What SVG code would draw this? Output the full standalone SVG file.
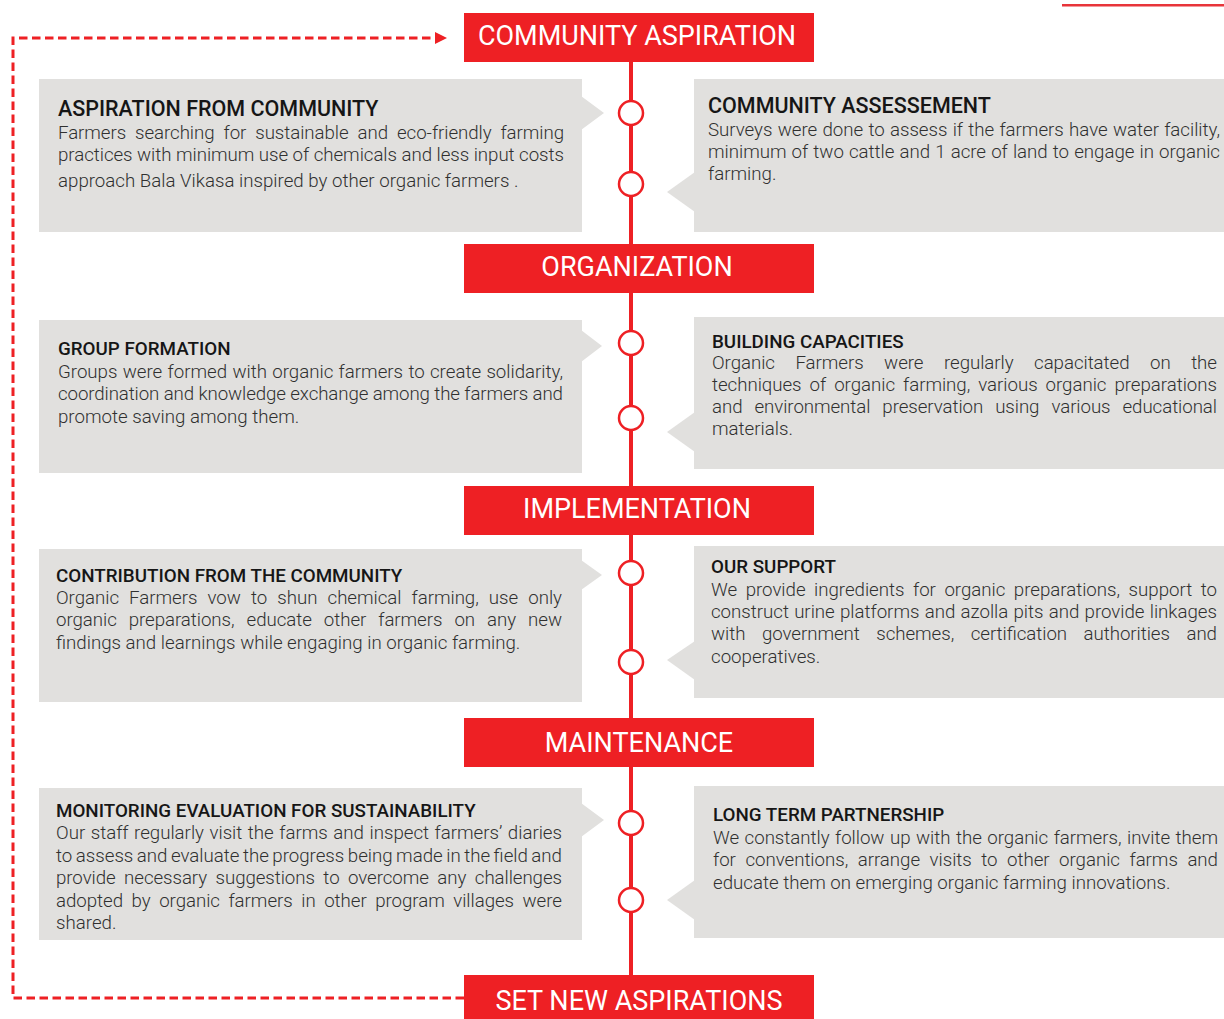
<svg xmlns="http://www.w3.org/2000/svg" width="1224" height="1019" viewBox="0 0 1224 1019">
<style>
.box{fill:#e1e0de}
.ttl{fill:#ee2024}
.tt{font-family:Roboto,"Liberation Sans",sans-serif;font-size:27px;fill:#fff;text-anchor:middle}
.hd{font-family:Roboto,"Liberation Sans",sans-serif;font-weight:500;font-size:18.8px;fill:#161616}
.hd1{font-size:21.5px}
.bd{font-family:Roboto,"Liberation Sans",sans-serif;font-weight:300;font-size:18.7px;fill:#303030}
.dot{fill:#fff;stroke:#ee2024;stroke-width:2.5}
</style>
<rect x="1062" y="4" width="162" height="2.5" fill="#e8343a"/>
<g id="connectors">
<line x1="631" y1="60" x2="631" y2="977" stroke="#ee2024" stroke-width="4"/>
<path d="M464,998 H13 V38 H437" fill="none" stroke="#ee2024" stroke-width="3" stroke-dasharray="8.5 4.5"/>
<polygon points="435,32 447,38 435,44" fill="#ee2024"/>
</g>
<g id="dots">
<circle class="dot" cx="631" cy="113" r="12"/>
<circle class="dot" cx="631" cy="184" r="12"/>
<circle class="dot" cx="631" cy="343" r="12"/>
<circle class="dot" cx="631" cy="418" r="12"/>
<circle class="dot" cx="631" cy="573" r="12"/>
<circle class="dot" cx="631" cy="662" r="12"/>
<circle class="dot" cx="631" cy="823" r="12"/>
<circle class="dot" cx="631" cy="900" r="12"/>
</g>
<g id="title-community-aspiration"><rect class="ttl" x="464" y="13" width="350" height="49"/><text class="tt" x="637" y="44.5">COMMUNITY ASPIRATION</text></g>
<g id="title-organization"><rect class="ttl" x="464" y="244" width="350" height="49"/><text class="tt" x="637" y="275.5">ORGANIZATION</text></g>
<g id="title-implementation"><rect class="ttl" x="464" y="486" width="350" height="49"/><text class="tt" x="637" y="517.5">IMPLEMENTATION</text></g>
<g id="title-maintenance"><rect class="ttl" x="464" y="718" width="350" height="49"/><text class="tt" x="639" y="751.5">MAINTENANCE</text></g>
<g id="title-set-new-aspirations"><rect class="ttl" x="464" y="975" width="350" height="44"/><text class="tt" x="639" y="1009.5">SET NEW ASPIRATIONS</text></g>

<g id="aspiration-from-community">
<rect class="box" x="39" y="79" width="543" height="153"/>
<polygon class="box" points="581,96 604,113 581,130"/>
<text class="hd hd1" x="58" y="116">ASPIRATION FROM COMMUNITY</text>
<text class="bd" x="58" y="139" word-spacing="4.5" textLength="506" lengthAdjust="spacing">Farmers searching for sustainable and eco-friendly farming</text>
<text class="bd" x="58" y="161" textLength="506" lengthAdjust="spacing">practices with minimum use of chemicals and less input costs</text>
<text class="bd" x="58" y="187">approach Bala Vikasa inspired by other organic farmers .</text>
</g>
<g id="community-assessement">
<rect class="box" x="694" y="79" width="530" height="153"/>
<polygon class="box" points="695,172 667,192 695,212"/>
<text class="hd hd1" x="708" y="113">COMMUNITY ASSESSEMENT</text>
<text class="bd" x="708" y="136" word-spacing="0.7" textLength="512" lengthAdjust="spacing">Surveys were done to assess if the farmers have water facility,</text>
<text class="bd" x="708" y="158" word-spacing="0.6" textLength="512" lengthAdjust="spacing">minimum of two cattle and 1 acre of land to engage in organic</text>
<text class="bd" x="708" y="180">farming.</text>
</g>

<g id="group-formation">
<rect class="box" x="39" y="320" width="543" height="153"/>
<polygon class="box" points="581,330 602,346 581,362"/>
<text class="hd" x="58" y="355">GROUP FORMATION</text>
<text class="bd" x="58" y="378" word-spacing="0.8" textLength="505" lengthAdjust="spacing">Groups were formed with organic farmers to create solidarity,</text>
<text class="bd" x="58" y="400" textLength="505" lengthAdjust="spacing">coordination and knowledge exchange among the farmers and</text>
<text class="bd" x="58" y="423">promote saving among them.</text>
</g>
<g id="building-capacities">
<rect class="box" x="694" y="317" width="530" height="152"/>
<polygon class="box" points="695,412 667,432 695,452"/>
<text class="hd" x="712" y="348">BUILDING CAPACITIES</text>
<text class="bd" x="712" y="369" word-spacing="16" textLength="505" lengthAdjust="spacing">Organic Farmers were regularly capacitated on the</text>
<text class="bd" x="712" y="391" word-spacing="3.5" textLength="505" lengthAdjust="spacing">techniques of organic farming, various organic preparations</text>
<text class="bd" x="712" y="413" word-spacing="7.5" textLength="505" lengthAdjust="spacing">and environmental preservation using various educational</text>
<text class="bd" x="712" y="435">materials.</text>
</g>

<g id="contribution-from-the-community">
<rect class="box" x="39" y="549" width="543" height="153"/>
<polygon class="box" points="581,560 602,575 581,590"/>
<text class="hd" x="56" y="582">CONTRIBUTION FROM THE COMMUNITY</text>
<text class="bd" x="56" y="604" word-spacing="5.6" textLength="506" lengthAdjust="spacing">Organic Farmers vow to shun chemical farming, use only</text>
<text class="bd" x="56" y="626" word-spacing="7.5" textLength="506" lengthAdjust="spacing">organic preparations, educate other farmers on any new</text>
<text class="bd" x="56" y="649">findings and learnings while engaging in organic farming.</text>
</g>
<g id="our-support">
<rect class="box" x="694" y="546" width="530" height="152"/>
<polygon class="box" points="695,641 667,660 695,680"/>
<text class="hd" x="711" y="573">OUR SUPPORT</text>
<text class="bd" x="711" y="596" word-spacing="4" textLength="506" lengthAdjust="spacing">We provide ingredients for organic preparations, support to</text>
<text class="bd" x="711" y="618" word-spacing="0.7" textLength="506" lengthAdjust="spacing">construct urine platforms and azolla pits and provide linkages</text>
<text class="bd" x="711" y="640" word-spacing="12" textLength="506" lengthAdjust="spacing">with government schemes, certification authorities and</text>
<text class="bd" x="711" y="663">cooperatives.</text>
</g>

<g id="monitoring-evaluation-for-sustainability">
<rect class="box" x="39" y="788" width="543" height="152"/>
<polygon class="box" points="581,803 604,820 581,837"/>
<text class="hd" x="56" y="817">MONITORING EVALUATION FOR SUSTAINABILITY</text>
<text class="bd" x="56" y="839" word-spacing="1" textLength="506" lengthAdjust="spacing">Our staff regularly visit the farms and inspect farmers’ diaries</text>
<text class="bd" x="56" y="861.5" word-spacing="-1" textLength="506" lengthAdjust="spacing">to assess and evaluate the progress being made in the field and</text>
<text class="bd" x="56" y="884" word-spacing="4" textLength="506" lengthAdjust="spacing">provide necessary suggestions to overcome any challenges</text>
<text class="bd" x="56" y="906.5" word-spacing="4" textLength="506" lengthAdjust="spacing">adopted by organic farmers in other program villages were</text>
<text class="bd" x="56" y="929">shared.</text>
</g>
<g id="long-term-partnership">
<rect class="box" x="694" y="786" width="530" height="152"/>
<polygon class="box" points="695,880 667,900 695,920"/>
<text class="hd" x="713" y="821">LONG TERM PARTNERSHIP</text>
<text class="bd" x="713" y="844" word-spacing="1" textLength="505" lengthAdjust="spacing">We constantly follow up with the organic farmers, invite them</text>
<text class="bd" x="713" y="866" word-spacing="5" textLength="505" lengthAdjust="spacing">for conventions, arrange visits to other organic farms and</text>
<text class="bd" x="713" y="889">educate them on emerging organic farming innovations.</text>
</g>
</svg>
